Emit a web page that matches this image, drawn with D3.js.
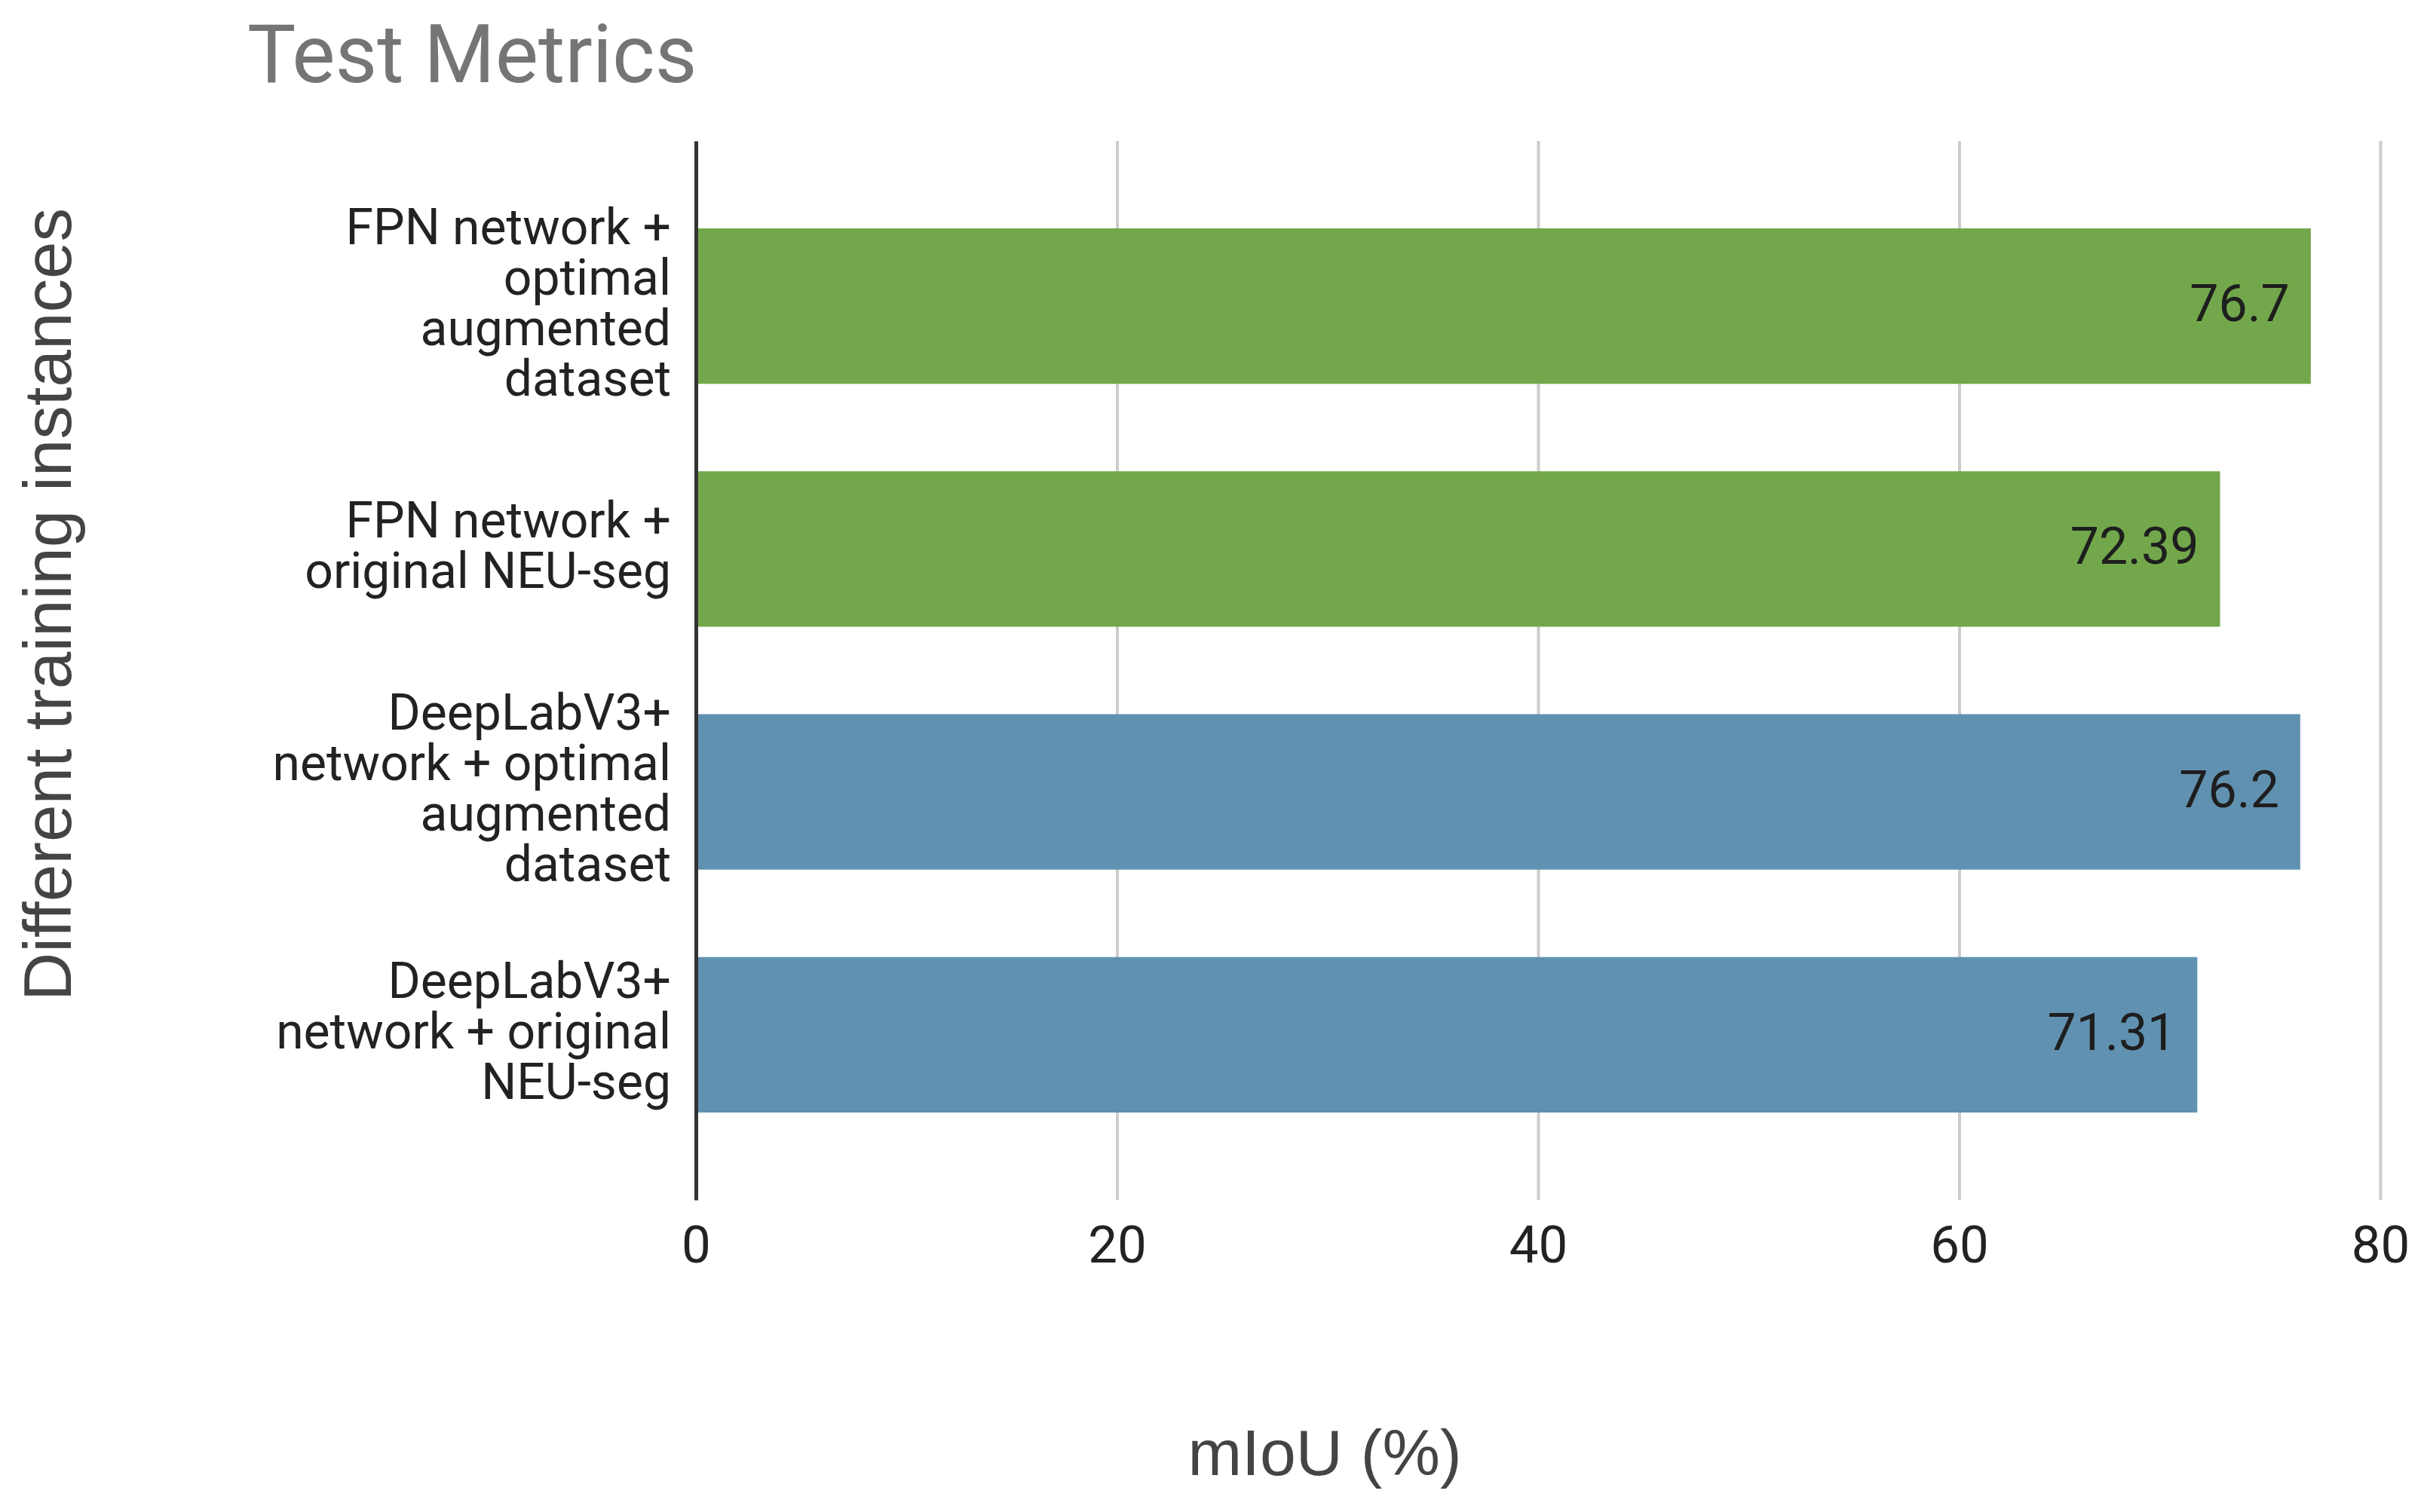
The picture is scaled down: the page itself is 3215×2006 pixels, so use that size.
<html>
    <head>
        <script src="https://cdnjs.cloudflare.com/ajax/libs/d3/7.8.5/d3.min.js"></script>
        <style>
            body { margin: 0; background: #fff; }
        </style>
    </head>
    <body>
        <svg width="3215" height="2006"></svg>
        <script>
            // chart data
            let categories = ["FPN optimal", "FPN original", "DeepLab optimal", "DeepLab original"];
            let categoryLines = [
                ["FPN network +", "optimal", "augmented", "dataset"],
                ["FPN network +", "original NEU-seg"],
                ["DeepLabV3+", "network + optimal", "augmented", "dataset"],
                ["DeepLabV3+", "network + original", "NEU-seg"]
            ];
            let values = [76.7, 72.39, 76.2, 71.31];
            let barColors = ["#72a84b", "#72a84b", "#6091b0", "#6091b0"];
            let xTicks = [0, 20, 40, 60, 80];

            var svg = d3.select("svg");
            var plotLeft = 923, plotRight = 3157, plotTop = 187, plotBottom = 1592;

            var x = d3.scaleLinear().domain([0, 80]).range([plotLeft, plotRight]);
            var y = d3.scaleBand()
                .domain(categories)
                .range([plotTop, plotBottom])
                .paddingInner(0.36)
                .paddingOuter(0.36);

            // title
            svg.append("text")
                .attr("x", 328).attr("y", 109)
                .style("font-family", "Roboto")
                .style("font-size", "108px")
                .style("fill", "#757575")
                .text("Test Metrics");

            // x axis + gridlines
            var xAxis = svg.append("g")
                .attr("transform", "translate(0," + plotBottom + ")")
                .call(d3.axisBottom(x).tickValues(xTicks).tickSize(-(plotBottom - plotTop)).tickPadding(34));
            xAxis.select(".domain").remove();
            xAxis.selectAll("line").style("stroke", "#cccccc").style("stroke-width", 4);
            xAxis.selectAll("text")
                .style("font-family", "Roboto")
                .style("font-size", "69px")
                .style("fill", "#222");

            // bars
            svg.selectAll("rect.bar")
                .data(values)
                .enter()
                .append("rect")
                .attr("class", "bar")
                .attr("x", x(0))
                .attr("y", (d, i) => y(categories[i]))
                .attr("width", d => x(d) - x(0))
                .attr("height", y.bandwidth())
                .style("fill", (d, i) => barColors[i]);

            // value labels
            svg.selectAll("text.val")
                .data(values)
                .enter()
                .append("text")
                .attr("class", "val")
                .attr("x", d => x(d) - 28)
                .attr("y", (d, i) => y(categories[i]) + y.bandwidth() / 2 + 20)
                .attr("text-anchor", "end")
                .style("font-family", "Roboto")
                .style("font-size", "68px")
                .style("fill", "#1e1e1e")
                .text(d => d);

            // y axis
            var yAxis = svg.append("g")
                .attr("transform", "translate(" + plotLeft + ",0)")
                .call(d3.axisLeft(y).tickSize(0).tickSizeOuter(0).tickFormat(""));
            yAxis.select(".domain").style("stroke", "#333").style("stroke-width", 5);

            var lineH = 67;
            svg.selectAll("text.cat")
                .data(categories)
                .enter()
                .append("text")
                .attr("class", "cat")
                .attr("text-anchor", "end")
                .style("font-family", "Roboto")
                .style("font-size", "66px")
                .style("fill", "#222")
                .each(function(c, i) {
                    var lines = categoryLines[i];
                    var cy = y(c) + y.bandwidth() / 2;
                    d3.select(this).selectAll("tspan")
                        .data(lines)
                        .enter()
                        .append("tspan")
                        .attr("x", plotLeft - 33)
                        .attr("y", (l, j) => cy + (j - (lines.length - 1) / 2) * lineH + 18)
                        .text(l => l);
                });

            // axis titles
            svg.append("text")
                .attr("x", 1757).attr("y", 1957)
                .attr("text-anchor", "middle")
                .style("font-family", "Liberation Sans")
                .style("font-size", "86px")
                .style("fill", "#444")
                .text("mIoU (%)");

            svg.append("text")
                .attr("transform", "translate(94,802) rotate(-90)")
                .attr("text-anchor", "middle")
                .style("font-family", "Liberation Sans")
                .style("font-size", "89px")
                .style("fill", "#444")
                .text("Different training instances");
        </script>
    </body>
</html>
